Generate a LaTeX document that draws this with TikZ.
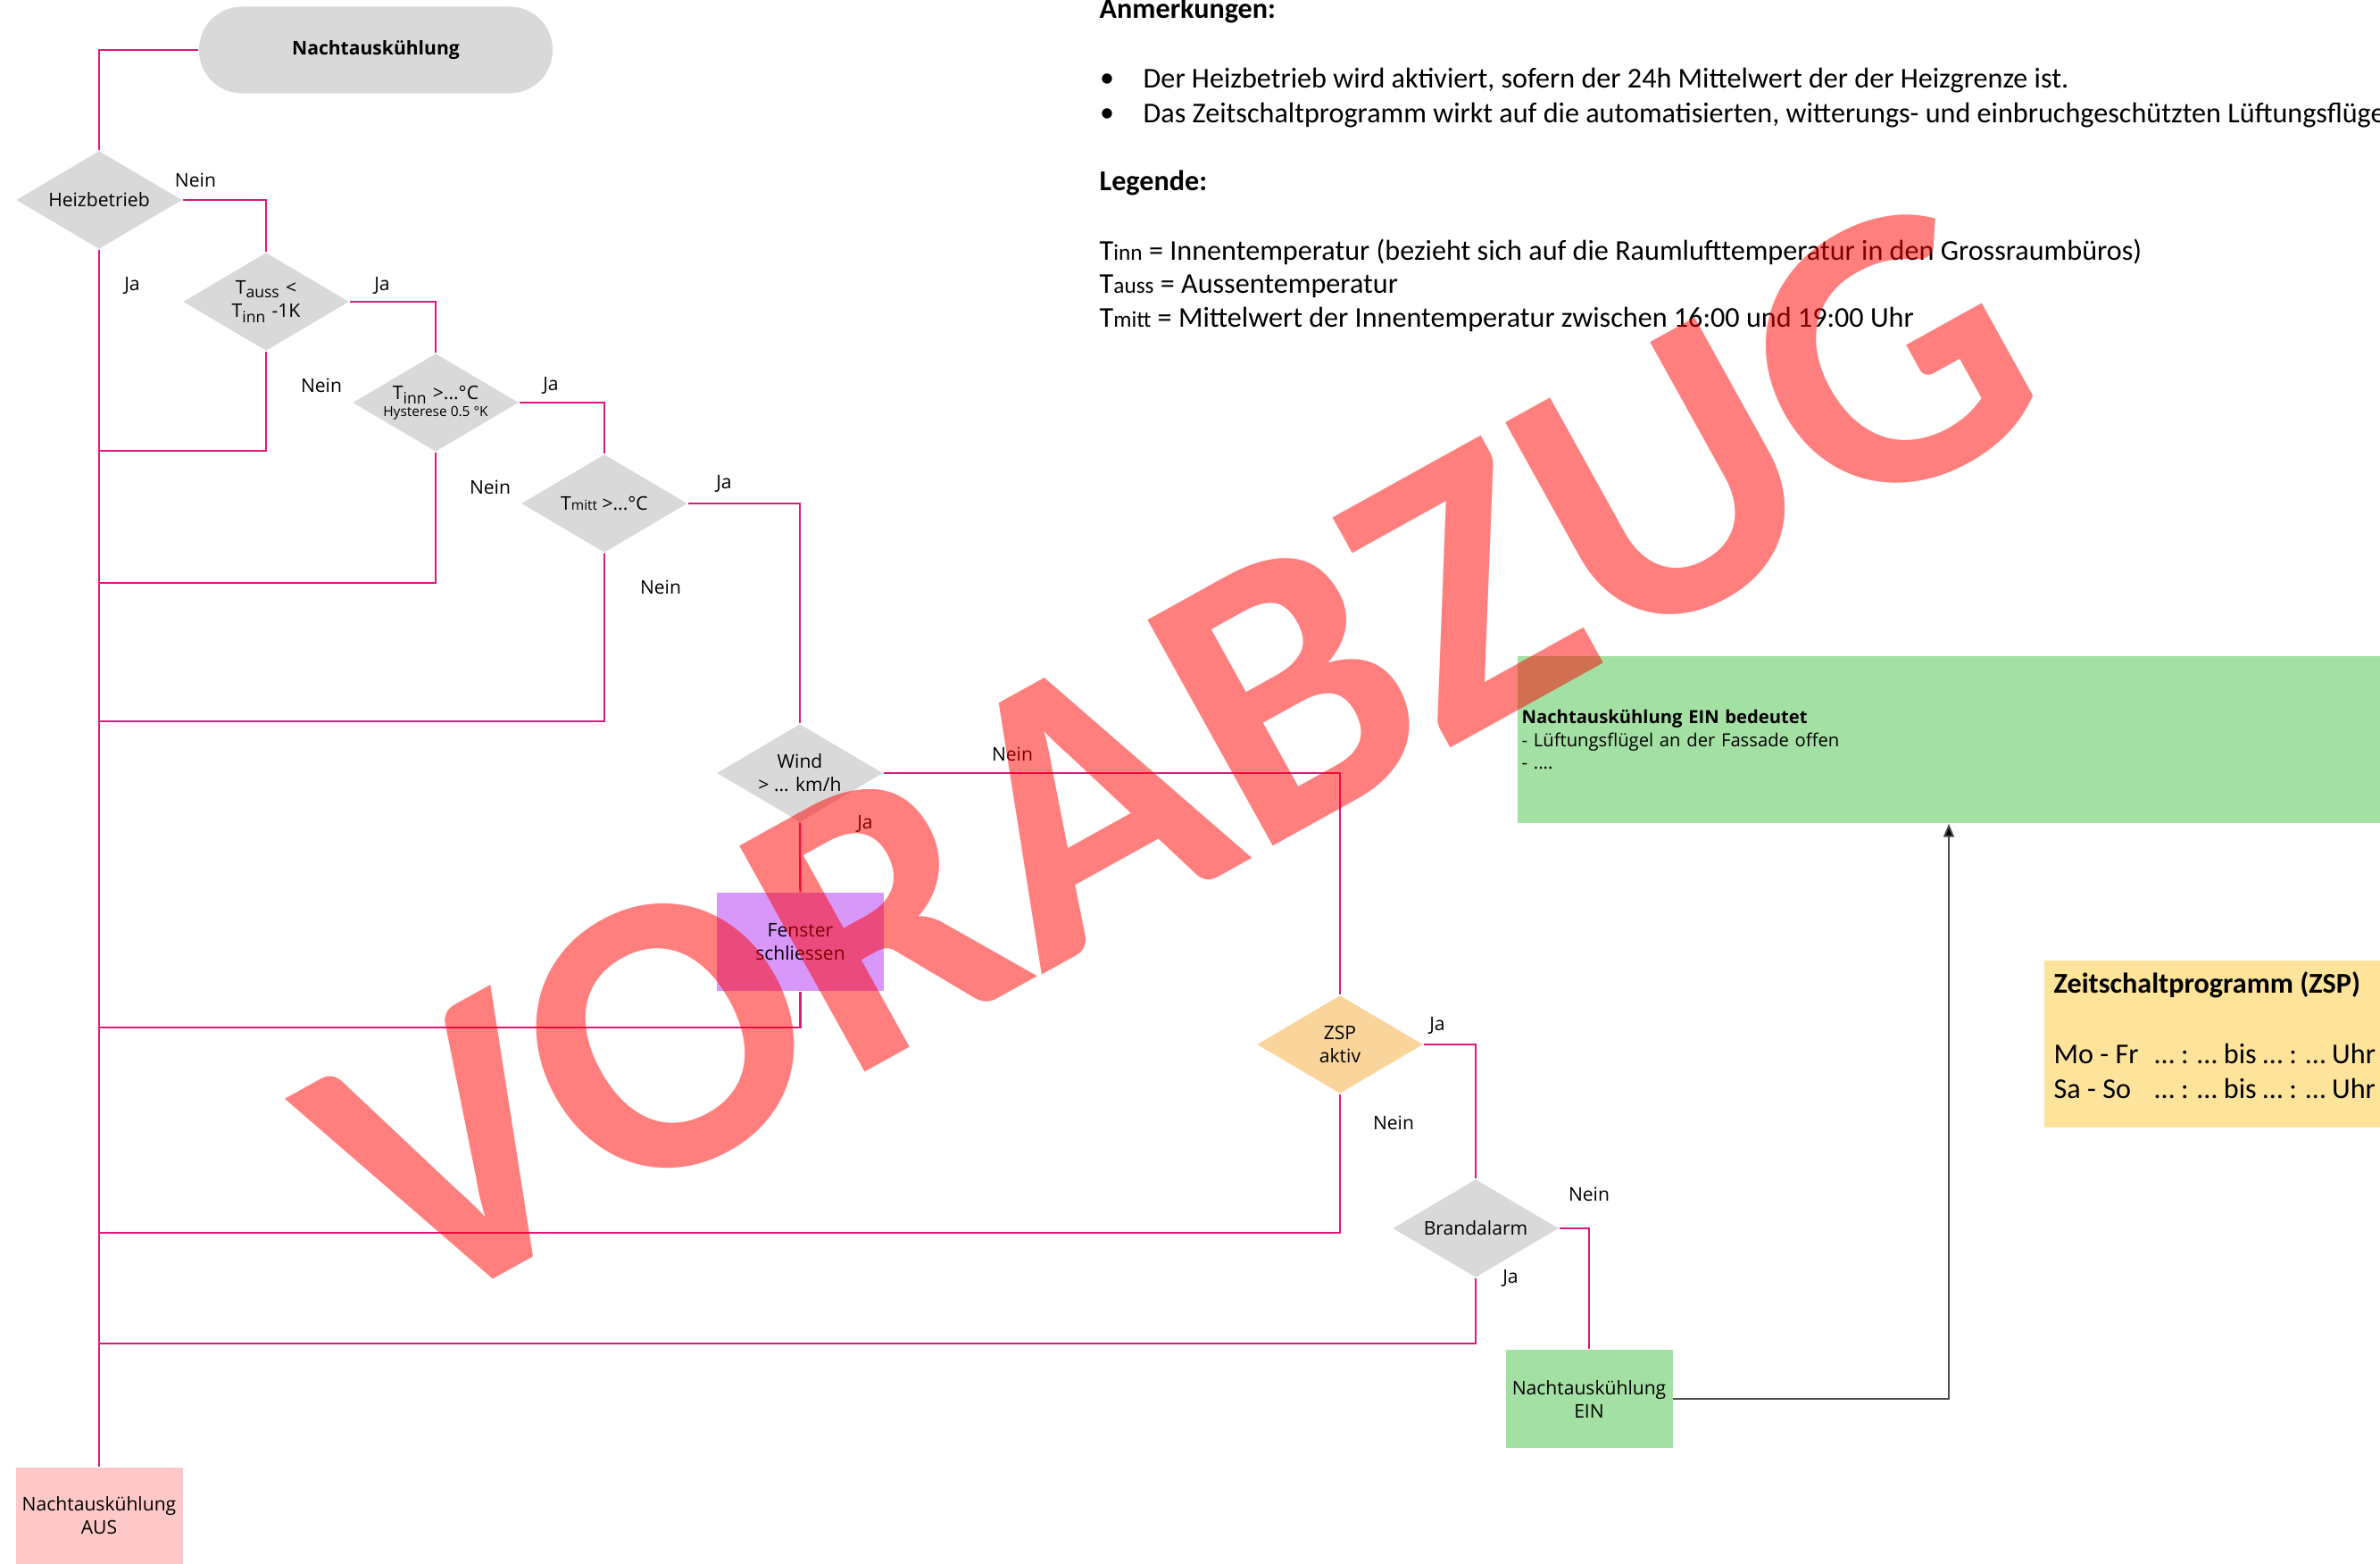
\documentclass[tikz,border=0pt]{standalone}
\usepackage{fontspec}
\setmainfont{Open Sans}
\newfontfamily\calfont{Carlito}
\usetikzlibrary{arrows.meta,shapes.geometric,positioning,calc}
\definecolor{flusspink}{RGB}{222,24,122}
\definecolor{rautegrau}{RGB}{217,217,217}
\definecolor{fensterlila}{RGB}{216,152,250}
\definecolor{zsporange}{RGB}{250,213,155}
\definecolor{eingruen}{RGB}{163,224,163}
\definecolor{ausrosa}{RGB}{255,200,200}
\definecolor{zspgelb}{RGB}{254,227,155}
\newcommand{\nfont}{\fontsize{6}{7.4}\selectfont}
\newcommand{\kfont}{\fontsize{4.4}{5}\selectfont}
\newcommand{\afont}{\calfont\fontsize{9.15}{11}\selectfont}
\newcommand{\lfont}{\fontsize{7.2}{8.5}\selectfont}

\begin{document}
\begin{tikzpicture}[
    every node/.style={font=\nfont},
    raute/.style={diamond,fill=rautegrau,inner sep=0pt,aspect=1.7,
      minimum width=1.86cm,minimum height=1.1cm,align=center},
    kasten/.style={rectangle,inner sep=0pt,
      minimum width=1.87cm,minimum height=1.1cm,align=center},
    fluss/.style={draw=flusspink,line width=0.7pt},
    antwort/.style={inner sep=0pt}
  ]
  \useasboundingbox (0,0) rectangle (26.66,-17.52);
  %% Flowchart nodes
  \node[rectangle,rounded corners=0.48cm,fill=rautegrau,
    minimum width=3.96cm,minimum height=0.97cm,font=\nfont\bfseries]
    (start) at (4.21,-0.56) {Nachtauskühlung};
  \node[raute] (heiz) at (1.11,-2.24) {Heizbetrieb};
  \node[raute] (tauss) at (2.98,-3.38)
    {T\textsubscript{auss} <\\T\textsubscript{inn} -1K};
  \node[raute] (tinn) at (4.88,-4.51)
    {T\textsubscript{inn} >...°C\\[-2pt]{\kfont Hysterese 0.5 °K}};
  \node[raute] (tmitt) at (6.77,-5.64) {T{\kfont mitt} >...°C};
  \node[raute] (wind) at (8.96,-8.66) {Wind\\> ... km/h};
  \node[kasten,fill=fensterlila] (fenster) at (8.965,-10.55)
    {Fenster\\schliessen};
  \node[raute,fill=zsporange] (zsp) at (15.01,-11.70) {ZSP\\aktiv};
  \node[raute] (brand) at (16.53,-13.76) {Brandalarm};
  \node[kasten,fill=eingruen] (ein) at (17.80,-15.67)
    {Nachtauskühlung\\EIN};
  \node[kasten,fill=ausrosa,minimum height=1.08cm] (aus) at (1.11,-16.98)
    {Nachtauskühlung\\AUS};
  %% Info boxes
  \node[rectangle,fill=eingruen,anchor=west,minimum height=1.87cm,
    text width=9.9cm,inner xsep=0.05cm,align=left,
    font=\fontsize{5.75}{7.3}\selectfont]
    (einfo) at (16.99,-8.285)
    {\textbf{Nachtauskühlung EIN bedeutet}\\- Lüftungsflügel an der Fassade offen\\- ....};
  \node[rectangle,fill=zspgelb,anchor=north west,minimum height=1.87cm,
    minimum width=4cm] (zspbox) at (22.89,-10.75) {};
  \node[anchor=west,inner sep=0pt,font=\afont\bfseries]
    (zsptitel) at (23.00,-11.03) {Zeitschaltprogramm (ZSP)};
  \node[anchor=west,inner sep=0pt,font=\afont]
    (zspmofr) at (23.00,-11.80) {\makebox[1.13cm][l]{Mo - Fr}… : … bis … : … Uhr};
  \node[anchor=west,inner sep=0pt,font=\afont]
    (zspsaso) at (23.00,-12.19) {\makebox[1.13cm][l]{Sa - So}… : … bis … : … Uhr};
  %% Junctions on the AUS line
  \coordinate (r1) at (1.11,-5.05);
  \coordinate (r2) at (1.11,-6.53);
  \coordinate (r3) at (1.11,-8.08);
  \coordinate (r4) at (1.11,-11.51);
  \coordinate (r5) at (1.11,-13.81);
  \coordinate (r6) at (1.11,-15.05);
  \coordinate (pfeil) at (21.83,-15.67);
  %% Connectors
  \draw[fluss] (start.west) -| (heiz.north);
  \draw[fluss] (heiz.south) -- (aus.north);
  \draw[fluss] (heiz.east) -| (tauss.north);
  \draw[fluss] (tauss.east) -| (tinn.north);
  \draw[fluss] (tinn.east) -| (tmitt.north);
  \draw[fluss] (tmitt.east) -| (wind.north);
  \draw[fluss] (wind.east) -| (zsp.north);
  \draw[fluss] (zsp.east) -| (brand.north);
  \draw[fluss] (brand.east) -| (ein.north);
  \draw[fluss] (wind.south) -- (fenster.north);
  \draw[fluss] (tauss.south) |- (r1);
  \draw[fluss] (tinn.south) |- (r2);
  \draw[fluss] (tmitt.south) |- (r3);
  \draw[fluss] (fenster.south) |- (r4);
  \draw[fluss] (zsp.south) |- (r5);
  \draw[fluss] (brand.south) |- (r6);
  \draw[draw=black!70,line width=0.5pt,
    -{Triangle[length=0.15cm,width=0.12cm,fill=black]}]
    (ein.east) -- (pfeil) -- (pfeil |- einfo.south);
  %% Ja / Nein
  \node[antwort] (n1) at (2.19,-2.02) {Nein};
  \node[antwort] (j1) at (1.48,-3.20) {Ja};
  \node[antwort] (j2) at (4.28,-3.20) {Ja};
  \node[antwort] (n2) at (3.60,-4.32) {Nein};
  \node[antwort] (j3) at (6.17,-4.32) {Ja};
  \node[antwort] (n3) at (5.49,-5.46) {Nein};
  \node[antwort] (j4) at (8.11,-5.42) {Ja};
  \node[antwort] (n4) at (7.40,-6.58) {Nein};
  \node[antwort] (n5) at (11.34,-8.45) {Nein};
  \node[antwort] (j5) at (9.69,-9.23) {Ja};
  \node[antwort] (j6) at (16.10,-11.49) {Ja};
  \node[antwort] (n6) at (15.61,-12.58) {Nein};
  \node[antwort] (n7) at (17.80,-13.38) {Nein};
  \node[antwort] (j7) at (16.92,-14.32) {Ja};
  %% Anmerkungen / Legende
  \node[anchor=west,inner sep=0pt,font=\afont\bfseries]
    (anm) at (12.31,-0.12) {Anmerkungen:};
  \node[inner sep=0pt,font=\afont] (p1) at (12.40,-0.90) {•};
  \node[anchor=west,inner sep=0pt,font=\afont] (b1) at (12.80,-0.90)
    {Der Heizbetrieb wird aktiviert, sofern der 24h Mittelwert der der Heizgrenze ist.};
  \node[inner sep=0pt,font=\afont] (p2) at (12.40,-1.29) {•};
  \node[anchor=west,inner sep=0pt,font=\afont] (b2) at (12.80,-1.29)
    {Das Zeitschaltprogramm wirkt auf die automatisierten, witterungs- und einbruchgeschützten Lüftungsflügel};
  \node[anchor=west,inner sep=0pt,font=\afont\bfseries]
    (leg) at (12.31,-2.05) {Legende:};
  \node[anchor=west,inner sep=0pt,font=\afont] (leg1) at (12.31,-2.82)
    {T{\lfont inn} = Innentemperatur (bezieht sich auf die Raumlufttemperatur in den Grossraumbüros)};
  \node[anchor=west,inner sep=0pt,font=\afont] (leg2) at (12.31,-3.21)
    {T{\lfont auss} = Aussentemperatur};
  \node[anchor=west,inner sep=0pt,font=\afont] (leg3) at (12.31,-3.58)
    {T{\lfont mitt} = Mittelwert der Innentemperatur zwischen 16:00 und 19:00 Uhr};
  %% Wasserzeichen
  \node[rotate=29,text=red,text opacity=0.5,inner sep=0pt,
    font=\calfont\bfseries\fontsize{127}{127}\selectfont]
    (vorabzug) at (13.14,-8.45) {VORABZUG};
\end{tikzpicture}
\end{document}
